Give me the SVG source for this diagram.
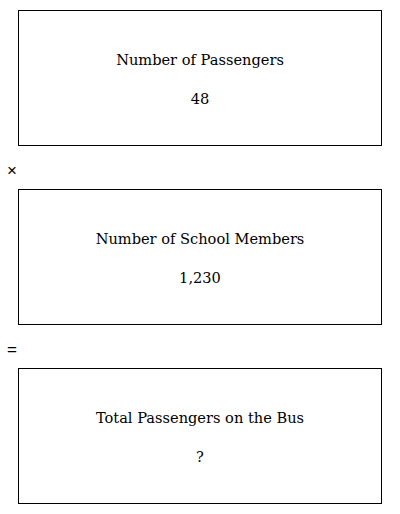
<svg xmlns="http://www.w3.org/2000/svg" width="400" height="514" viewBox="0 0 400 514">
<style>
.box{fill:#fff;stroke:#000;stroke-width:1}
.t{font-family:"DejaVu Serif","Liberation Serif",serif;font-size:14.6px;fill:#000;text-anchor:middle}
.op{font-family:"Liberation Sans",Arial,sans-serif;font-size:17px;fill:#000}
</style>
<rect width="400" height="514" fill="#fff"/>
<g id="node-passengers">
<rect class="box" x="18.5" y="10.5" width="363" height="135"/>
<text class="t" x="200" y="65">Number of Passengers</text>
<text class="t" x="200" y="104">48</text>
</g>
<g id="op-times"><text class="op" x="7" y="176">×</text></g>
<g id="node-members">
<rect class="box" x="18.5" y="189.5" width="363" height="135"/>
<text class="t" x="200" y="244">Number of School Members</text>
<text class="t" x="200" y="283">1,230</text>
</g>
<g id="op-equals"><text class="op" x="7" y="355">=</text></g>
<g id="node-total">
<rect class="box" x="18.5" y="368.5" width="363" height="135"/>
<text class="t" x="200" y="423">Total Passengers on the Bus</text>
<text class="t" x="200" y="462">?</text>
</g>
<g id="connectors"></g>
</svg>
